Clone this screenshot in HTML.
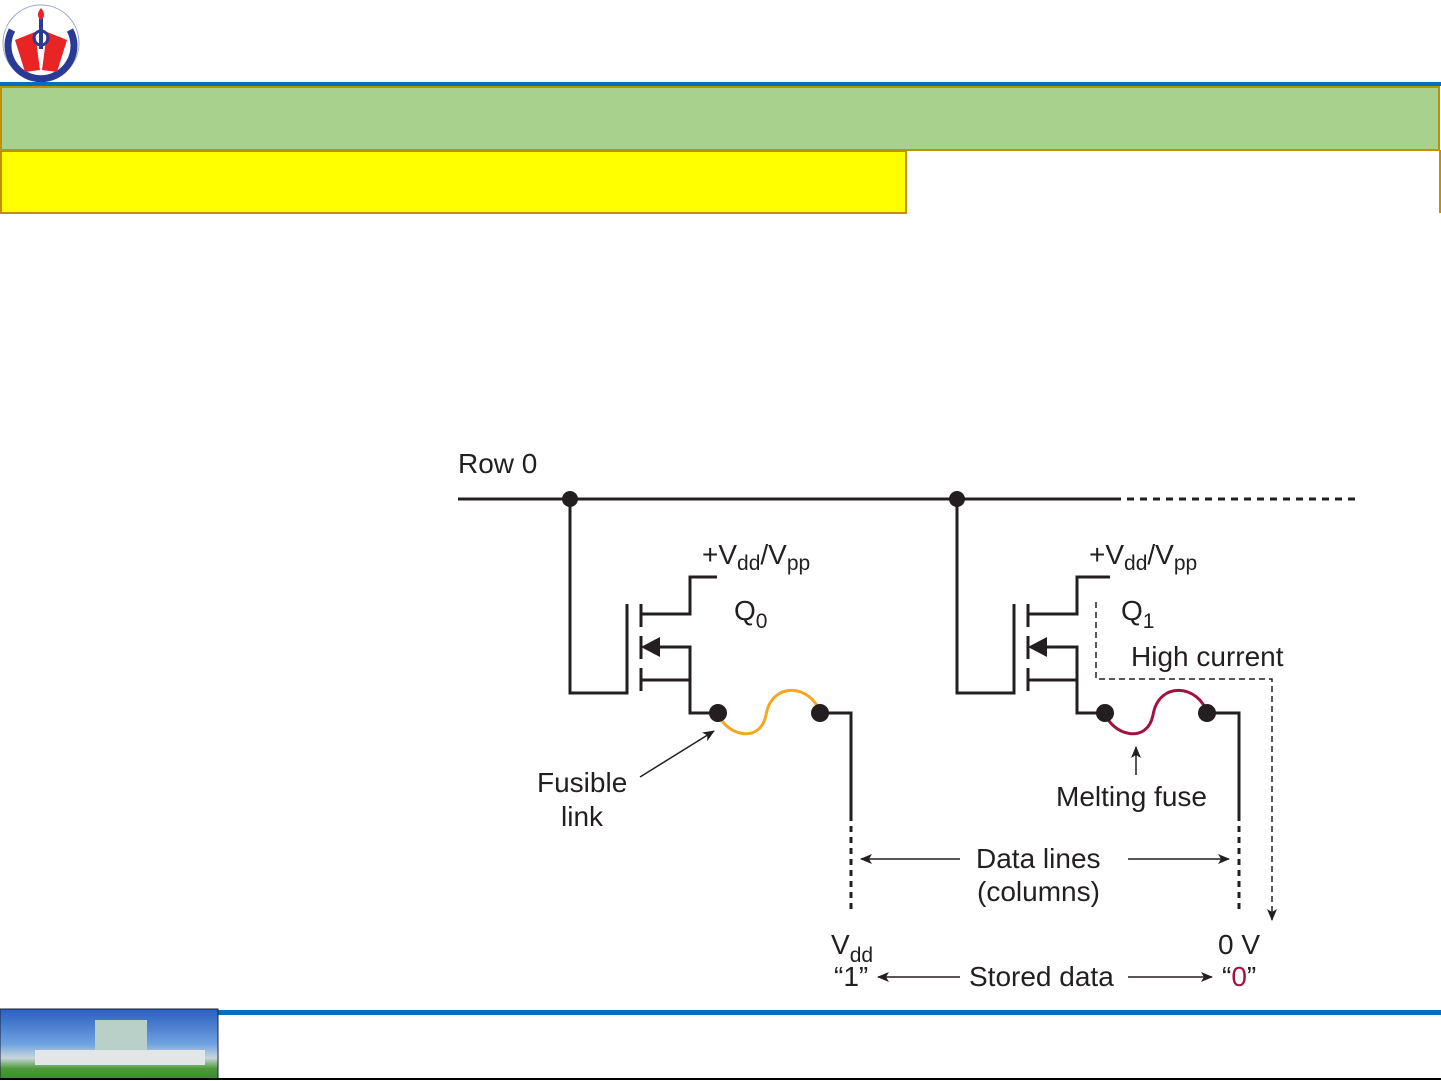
<!DOCTYPE html>
<html><head><meta charset="utf-8"><style>
html,body{margin:0;padding:0;background:#fff;}
body{width:1441px;height:1081px;position:relative;overflow:hidden;}
svg{position:absolute;left:0;top:0;}
text{font-family:"Liberation Sans",Arial,sans-serif;fill:#231f20;}
</style></head><body>
<svg width="1441" height="1081" viewBox="0 0 1441 1081" xmlns="http://www.w3.org/2000/svg">
<defs>
<linearGradient id="sky" x1="0" y1="0" x2="0" y2="1">
<stop offset="0" stop-color="#2a5fc0"/><stop offset="0.5" stop-color="#6fa2e0"/><stop offset="0.7" stop-color="#c9d6dc"/><stop offset="0.85" stop-color="#4e9a3a"/><stop offset="1" stop-color="#3a8a30"/>
</linearGradient>
<marker id="ah" markerWidth="12" markerHeight="10" refX="11" refY="5" orient="auto" markerUnits="userSpaceOnUse"><path d="M0,0 L12,5 L0,10 L3,5 z" fill="#231f20"/></marker>
</defs>
<!-- header -->
<circle cx="41" cy="43" r="38" fill="#fff" stroke="#9aa6c8" stroke-width="1"/>
<path d="M12,30 A33,33 0 1 0 70,30" fill="none" stroke="#2a3b96" stroke-width="7"/>
<path d="M15,40 L35,32 L40,70 L25,72 Z M67,40 L47,32 L42,70 L57,72 Z" fill="#e82424"/>
<circle cx="41" cy="38" r="7" fill="none" stroke="#2a3b96" stroke-width="3"/>
<rect x="39" y="15" width="4" height="34" fill="#2a3b96"/>
<path d="M41,8 C36,14 38,18 41,20 C44,18 46,14 41,8Z" fill="#e82424"/>
<rect x="0" y="82" width="1441" height="4" fill="#0070c0"/>
<rect x="1" y="87" width="1438" height="63" fill="#a9d18e" stroke="#bf9000" stroke-width="2"/>
<rect x="1" y="151" width="905" height="62" fill="#ffff00" stroke="#bf9000" stroke-width="2"/>
<line x1="1440" y1="150" x2="1440" y2="213" stroke="#bf9000" stroke-width="2"/>
<!-- footer -->
<rect x="218" y="1010" width="1223" height="5" fill="#0070c0"/>
<rect x="0" y="1009" width="218" height="70" fill="url(#sky)" stroke="#1b2240" stroke-width="1"/>
<rect x="95" y="1020" width="52" height="40" fill="#b9d0c8"/>
<rect x="35" y="1050" width="170" height="15" fill="#e3e6e6"/>
<line x1="0" y1="1079" x2="1441" y2="1079" stroke="#000" stroke-width="2"/>

<!-- circuit -->
<g stroke="#231f20" stroke-width="3" fill="none">
<line x1="458" y1="499" x2="1114" y2="499"/>
<line x1="1114" y1="499" x2="1360" y2="499" stroke-dasharray="7,6"/>
<polyline points="570,499 570,693 627,693 627,604"/>
<line x1="641" y1="604" x2="641" y2="627"/>
<line x1="641" y1="636" x2="641" y2="659"/>
<line x1="641" y1="668" x2="641" y2="691"/>
<polyline points="641,614 690,614 690,577 717,577"/>
<polyline points="655,647 690,647 690,713 718,713"/>
<line x1="641" y1="680" x2="690" y2="680"/>
<polyline points="820,713 851,713 851,815"/>
<line x1="851" y1="815" x2="851" y2="912" stroke-dasharray="6,5"/>
<polyline points="957,499 957,693 1014,693 1014,604"/>
<line x1="1028" y1="604" x2="1028" y2="627"/>
<line x1="1028" y1="636" x2="1028" y2="659"/>
<line x1="1028" y1="668" x2="1028" y2="691"/>
<polyline points="1028,614 1077,614 1077,577 1110,577"/>
<polyline points="1042,647 1077,647 1077,713 1105,713"/>
<line x1="1028" y1="680" x2="1077" y2="680"/>
<polyline points="1207,713 1239,713 1239,815"/>
<line x1="1239" y1="815" x2="1239" y2="912" stroke-dasharray="6,5"/>
</g>
<path d="M641,647 L660,637 L660,657 Z" fill="#231f20"/>
<path d="M1028,647 L1047,637 L1047,657 Z" fill="#231f20"/>
<path d="M718,713 C725,735 760,745 766,715 C772,680 812,685 820,713" fill="none" stroke="#f5a623" stroke-width="3"/>
<path d="M1105,713 C1112,735 1147,745 1153,715 C1159,680 1199,685 1207,713" fill="none" stroke="#a3123f" stroke-width="3"/>
<g fill="#231f20">
<circle cx="570" cy="499" r="8"/><circle cx="957" cy="499" r="8"/>
<circle cx="718" cy="713" r="9"/><circle cx="820" cy="713" r="9"/>
<circle cx="1105" cy="713" r="9"/><circle cx="1207" cy="713" r="9"/>
</g>
<polyline points="1096,602 1096,679 1272,679 1272,920" fill="none" stroke="#231f20" stroke-width="1.5" stroke-dasharray="6,4" marker-end="url(#ah)"/>
<g stroke="#231f20" stroke-width="1.5" fill="none" marker-end="url(#ah)">
<line x1="640" y1="777" x2="714" y2="731"/>
<line x1="1136" y1="775" x2="1136" y2="747"/>
<line x1="960" y1="859" x2="861" y2="859"/>
<line x1="1128" y1="859" x2="1229" y2="859"/>
<line x1="960" y1="977" x2="878" y2="977"/>
<line x1="1128" y1="977" x2="1212" y2="977"/>
</g>
<g font-size="28">
<text x="458" y="473">Row 0</text>
<text x="702" y="564">+V<tspan font-size="21" dy="6">dd</tspan><tspan dy="-6">/V</tspan><tspan font-size="21" dy="6">pp</tspan></text>
<text x="1089" y="564">+V<tspan font-size="21" dy="6">dd</tspan><tspan dy="-6">/V</tspan><tspan font-size="21" dy="6">pp</tspan></text>
<text x="734" y="620">Q<tspan font-size="21" dy="8">0</tspan></text>
<text x="1121" y="620">Q<tspan font-size="21" dy="8">1</tspan></text>
<text x="1131" y="666">High current</text>
<text x="537" y="792">Fusible</text>
<text x="561" y="826">link</text>
<text x="1056" y="806">Melting fuse</text>
<text x="976" y="868">Data lines</text>
<text x="977" y="901">(columns)</text>
<text x="831" y="954">V<tspan font-size="21" dy="8">dd</tspan></text>
<text x="834" y="986">“1”</text>
<text x="969" y="986">Stored data</text>
<text x="1218" y="954">0 V</text>
<text x="1222" y="986">“<tspan style="fill:#a3123f">0</tspan>”</text>
</g>
</svg>
</body></html>
